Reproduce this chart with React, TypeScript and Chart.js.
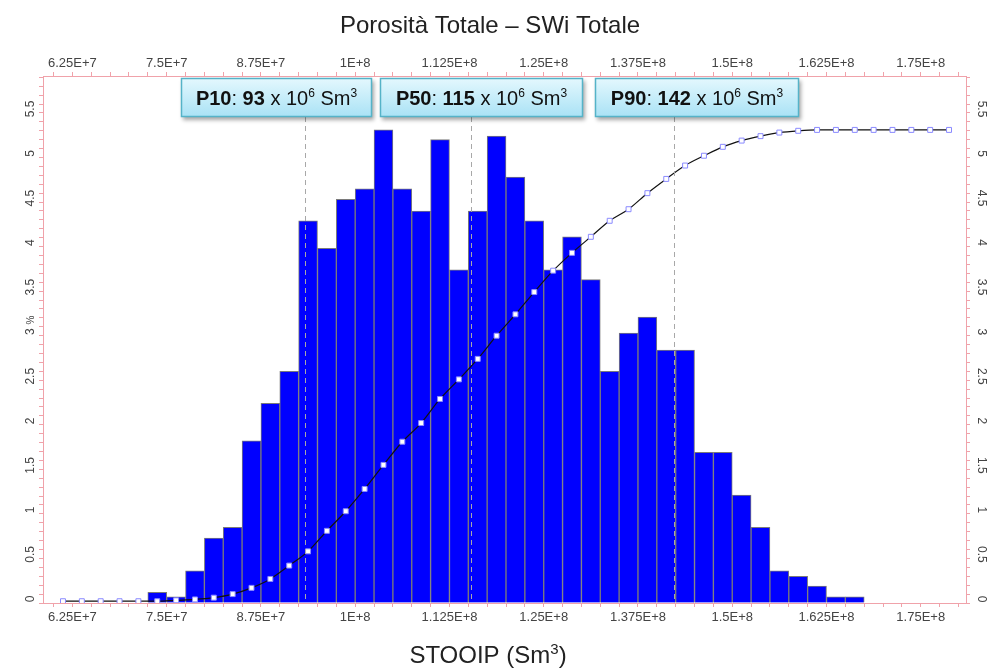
import React, { useEffect, useRef } from 'react';
import { Chart, registerables } from 'chart.js';

Chart.register(...registerables);

const FONT = "'Liberation Sans', Arial, Helvetica, sans-serif";

const TITLE = 'Porosità Totale – SWi Totale';
const X_TITLE_MAIN = 'STOOIP (Sm';
const X_TITLE_SUP = '3';
const X_TITLE_END = ')';
const Y_TITLE = '%';

// Histogram bins (STOOIP, Sm3) and frequencies (%)
const BAR_BIN_CENTERS = [
  7.375e7, 7.625e7, 7.875e7, 8.125e7, 8.375e7, 8.625e7, 8.875e7, 9.125e7, 9.375e7, 9.625e7,
  9.875e7, 1.0125e8, 1.0375e8, 1.0625e8, 1.0875e8, 1.1125e8, 1.1375e8, 1.1625e8, 1.1875e8, 1.2125e8,
  1.2375e8, 1.2625e8, 1.2875e8, 1.3125e8, 1.3375e8, 1.3625e8, 1.3875e8, 1.4125e8, 1.4375e8, 1.4625e8,
  1.4875e8, 1.5125e8, 1.5375e8, 1.5625e8, 1.5875e8, 1.6125e8, 1.6375e8, 1.6625e8,
];
const BAR_PERCENT = [
  0.12, 0.07, 0.36, 0.73, 0.85, 1.82, 2.24, 2.6, 4.29, 3.98,
  4.53, 4.65, 5.31, 4.65, 4.4, 5.2, 3.74, 4.4, 5.24, 4.78,
  4.29, 3.74, 4.11, 3.63, 2.6, 3.03, 3.21, 2.84, 2.84, 1.69,
  1.69, 1.21, 0.85, 0.36, 0.3, 0.19, 0.07, 0.07,
];

// Cumulative curve (right axis)
const CDF_BIN_CENTERS = [
  6.125e7, 6.375e7, 6.625e7, 6.875e7, 7.125e7, 7.375e7, 7.625e7, 7.875e7, 8.125e7, 8.375e7,
  8.625e7, 8.875e7, 9.125e7, 9.375e7, 9.625e7, 9.875e7, 1.0125e8, 1.0375e8, 1.0625e8, 1.0875e8,
  1.1125e8, 1.1375e8, 1.1625e8, 1.1875e8, 1.2125e8, 1.2375e8, 1.2625e8, 1.2875e8, 1.3125e8, 1.3375e8,
  1.3625e8, 1.3875e8, 1.4125e8, 1.4375e8, 1.4625e8, 1.4875e8, 1.5125e8, 1.5375e8, 1.5625e8, 1.5875e8,
  1.6125e8, 1.6375e8, 1.6625e8, 1.6875e8, 1.7125e8, 1.7375e8, 1.7625e8, 1.7875e8,
];
const CDF_VALUES = [
  0.02, 0.02, 0.02, 0.02, 0.02, 0.02, 0.03, 0.04, 0.06, 0.1,
  0.17, 0.27, 0.42, 0.58, 0.81, 1.03, 1.28, 1.55, 1.81, 2.02,
  2.29, 2.51, 2.74, 3.0, 3.24, 3.49, 3.73, 3.93, 4.11, 4.29,
  4.42, 4.6, 4.76, 4.91, 5.02, 5.12, 5.19, 5.24, 5.28, 5.3,
  5.31, 5.31, 5.31, 5.31, 5.31, 5.31, 5.31, 5.31,
];

const X_MIN = 5.86e7;
const X_MAX = 1.81e8;
const X_MINOR_STEP = 2.5e6;
const X_TICK_VALUES = [6.25e7, 7.5e7, 8.75e7, 1e8, 1.125e8, 1.25e8, 1.375e8, 1.5e8, 1.625e8, 1.75e8];
const X_TICK_LABELS = ['6.25E+7', '7.5E+7', '8.75E+7', '1E+8', '1.125E+8', '1.25E+8', '1.375E+8', '1.5E+8', '1.625E+8', '1.75E+8'];

const Y_MIN = 0;
const Y_MAX = 5.915;
const Y_MINOR_STEP = 0.1;
const Y_TICK_VALUES = [0, 0.5, 1, 1.5, 2, 2.5, 3, 3.5, 4, 4.5, 5, 5.5];
const Y_TICK_LABELS = ['0', '0.5', '1', '1.5', '2', '2.5', '3', '3.5', '4', '4.5', '5', '5.5'];

// Percentiles
const PERCENTILE_NAMES = ['P10', 'P50', 'P90'];
const PERCENTILE_POSITIONS = [9.33e7, 1.154e8, 1.423e8];
const PERCENTILE_LABELS = ['93', '115', '142'];

const PINK = '#f0a2aa';
const TICK_TEXT = '#444';

function xLabel(v: number): string {
  for (let i = 0; i < X_TICK_VALUES.length; i++) {
    if (Math.abs(X_TICK_VALUES[i] - v) < 1) return X_TICK_LABELS[i];
  }
  return '';
}

function minorTicks(start: number, end: number, step: number) {
  const out: { value: number }[] = [];
  const n = Math.round((end - start) / step);
  for (let i = 0; i <= n; i++) out.push({ value: +(start + i * step).toFixed(6) });
  return out;
}

type Seg = { t: string; bold?: boolean; sup?: boolean };

function drawSegs(ctx: CanvasRenderingContext2D, segs: Seg[], cx: number, baseline: number, size: number, supSize: number, supRise: number) {
  const fontFor = (s: Seg) => `${s.bold ? 'bold ' : ''}${s.sup ? supSize : size}px ${FONT}`;
  let total = 0;
  const widths = segs.map((s) => {
    ctx.font = fontFor(s);
    const w = ctx.measureText(s.t).width;
    total += w;
    return w;
  });
  let x = cx - total / 2;
  ctx.textAlign = 'left';
  ctx.textBaseline = 'alphabetic';
  segs.forEach((s, i) => {
    ctx.font = fontFor(s);
    ctx.fillText(s.t, x, s.sup ? baseline - supRise : baseline);
    x += widths[i];
  });
}

const decorPlugin = {
  id: 'decor',
  afterDatasetsDraw(chart: any) {
    const ctx: CanvasRenderingContext2D = chart.ctx;
    const xs = chart.scales.x;
    const area = chart.chartArea;
    const boxes = [
      [181, 372],
      [380, 583],
      [595, 799],
    ];
    const boxTop = 78;
    const boxBottom = 117;

    // dashed percentile lines
    ctx.save();
    ctx.strokeStyle = '#a8a8a8';
    ctx.lineWidth = 1;
    ctx.setLineDash([5, 4]);
    PERCENTILE_POSITIONS.forEach((v) => {
      const px = Math.round(xs.getPixelForValue(v)) + 0.5;
      ctx.beginPath();
      ctx.moveTo(px, boxBottom);
      ctx.lineTo(px, area.bottom);
      ctx.stroke();
    });
    ctx.restore();

    // boxes
    PERCENTILE_NAMES.forEach((name, i) => {
      const [l, r] = boxes[i];
      ctx.save();
      ctx.shadowColor = 'rgba(0,0,0,0.35)';
      ctx.shadowBlur = 4;
      ctx.shadowOffsetX = 2;
      ctx.shadowOffsetY = 3;
      const g = ctx.createLinearGradient(0, boxTop, 0, boxBottom);
      g.addColorStop(0, '#e4f8fe');
      g.addColorStop(1, '#a9e2f5');
      ctx.fillStyle = g;
      ctx.fillRect(l, boxTop, r - l, boxBottom - boxTop);
      ctx.restore();
      ctx.save();
      ctx.strokeStyle = '#55b3c8';
      ctx.lineWidth = 1.5;
      ctx.strokeRect(l + 0.5, boxTop + 0.5, r - l - 1, boxBottom - boxTop - 1);
      ctx.fillStyle = '#111';
      drawSegs(
        ctx,
        [
          { t: name, bold: true },
          { t: ': ' },
          { t: PERCENTILE_LABELS[i], bold: true },
          { t: ' x 10' },
          { t: '6', sup: true },
          { t: ' Sm' },
          { t: '3', sup: true },
        ],
        (l + r) / 2,
        104.5,
        20,
        12,
        8
      );
      ctx.restore();
    });
  },
  afterDraw(chart: any) {
    const ctx: CanvasRenderingContext2D = chart.ctx;
    const yl = chart.scales.y;
    const yr = chart.scales.yR;
    ctx.save();
    // title
    ctx.fillStyle = '#222';
    ctx.font = `24px ${FONT}`;
    ctx.textAlign = 'center';
    ctx.textBaseline = 'alphabetic';
    ctx.fillText(TITLE, 490, 33);
    // x title
    drawSegs(ctx, [{ t: X_TITLE_MAIN }, { t: X_TITLE_SUP, sup: true }, { t: X_TITLE_END }], 488, 663, 24, 15, 9);
    // y tick labels, rotated
    ctx.fillStyle = TICK_TEXT;
    ctx.font = `12px ${FONT}`;
    ctx.textAlign = 'center';
    ctx.textBaseline = 'middle';
    Y_TICK_VALUES.forEach((v, i) => {
      const py = yl.getPixelForValue(v) - 4;
      ctx.save();
      ctx.translate(31, py);
      ctx.rotate(-Math.PI / 2);
      ctx.fillText(Y_TICK_LABELS[i], 0, 0);
      ctx.restore();
      const pr = yr.getPixelForValue(v) - 4;
      ctx.save();
      ctx.translate(981, pr);
      ctx.rotate(Math.PI / 2);
      ctx.fillText(Y_TICK_LABELS[i], 0, 0);
      ctx.restore();
    });
    // y title
    ctx.font = `10px ${FONT}`;
    ctx.save();
    ctx.translate(31, 320);
    ctx.rotate(-Math.PI / 2);
    ctx.fillText(Y_TITLE, 0, 0);
    ctx.restore();
    ctx.restore();
  },
};

export default function App() {
  const ref = useRef<HTMLCanvasElement | null>(null);

  useEffect(() => {
    document.body.style.margin = '0';
    const canvas = ref.current;
    if (!canvas) return;

    const xCommon = (position: 'top' | 'bottom', height: number, pad: number) => ({
      type: 'linear' as const,
      position,
      min: X_MIN,
      max: X_MAX,
      offset: false,
      afterBuildTicks: (s: any) => {
        s.ticks = minorTicks(6.0e7, 1.8e8, X_MINOR_STEP);
      },
      afterFit: (s: any) => {
        s.height = height;
      },
      ticks: {
        autoSkip: false,
        maxRotation: 0,
        minRotation: 0,
        padding: pad,
        color: TICK_TEXT,
        font: { size: 13, family: FONT },
        callback: (v: any) => xLabel(Number(v)),
      },
      grid: {
        display: true,
        offset: false,
        drawOnChartArea: false,
        drawTicks: true,
        tickLength: 4,
        tickColor: PINK,
        color: PINK,
      },
      border: { display: true, color: PINK, width: 1 },
    });

    const yCommon = (position: 'left' | 'right', width: number) => ({
      type: 'linear' as const,
      position,
      min: Y_MIN,
      max: Y_MAX,
      afterBuildTicks: (s: any) => {
        s.ticks = minorTicks(0, 5.9, Y_MINOR_STEP);
      },
      afterFit: (s: any) => {
        s.width = width;
      },
      ticks: { display: false },
      grid: {
        display: true,
        drawOnChartArea: false,
        drawTicks: true,
        tickLength: 4,
        tickColor: PINK,
        color: PINK,
      },
      border: { display: true, color: PINK, width: 1 },
    });

    const chart = new Chart(canvas, {
      type: 'bar',
      data: {
        datasets: [
          {
            type: 'line' as const,
            label: 'Cumulativa',
            data: CDF_BIN_CENTERS.map((x, i) => ({ x, y: CDF_VALUES[i] })),
            xAxisID: 'x',
            yAxisID: 'yR',
            borderColor: '#111',
            borderWidth: 1.2,
            cubicInterpolationMode: 'monotone' as const,
            pointStyle: 'rect',
            pointRadius: 3.5,
            pointBorderWidth: 1,
            pointBorderColor: '#8a8aff',
            pointBackgroundColor: '#ffffff',
            order: 0,
          },
          {
            type: 'bar' as const,
            label: 'Frequenza',
            data: BAR_BIN_CENTERS.map((x, i) => ({ x, y: BAR_PERCENT[i] })),
            xAxisID: 'x',
            yAxisID: 'y',
            backgroundColor: '#0000ff',
            borderColor: '#7a7a7a',
            borderWidth: 1,
            barPercentage: 1,
            categoryPercentage: 1,
            order: 1,
          },
        ],
      },
      options: {
        responsive: false,
        maintainAspectRatio: false,
        animation: false,
        layout: { padding: 0 },
        plugins: {
          legend: { display: false },
          title: { display: false },
          tooltip: { enabled: false },
        },
        scales: {
          x: xCommon('bottom', 65, 3),
          xTop: xCommon('top', 76, 1),
          y: yCommon('left', 43),
          yR: yCommon('right', 25),
        } as any,
      },
      plugins: [decorPlugin],
    } as any);

    return () => chart.destroy();
  }, []);

  return (
    <div style={{ width: 991, height: 668, background: '#fff' }}>
      <canvas ref={ref} width={991} height={668} style={{ display: 'block' }} />
    </div>
  );
}
